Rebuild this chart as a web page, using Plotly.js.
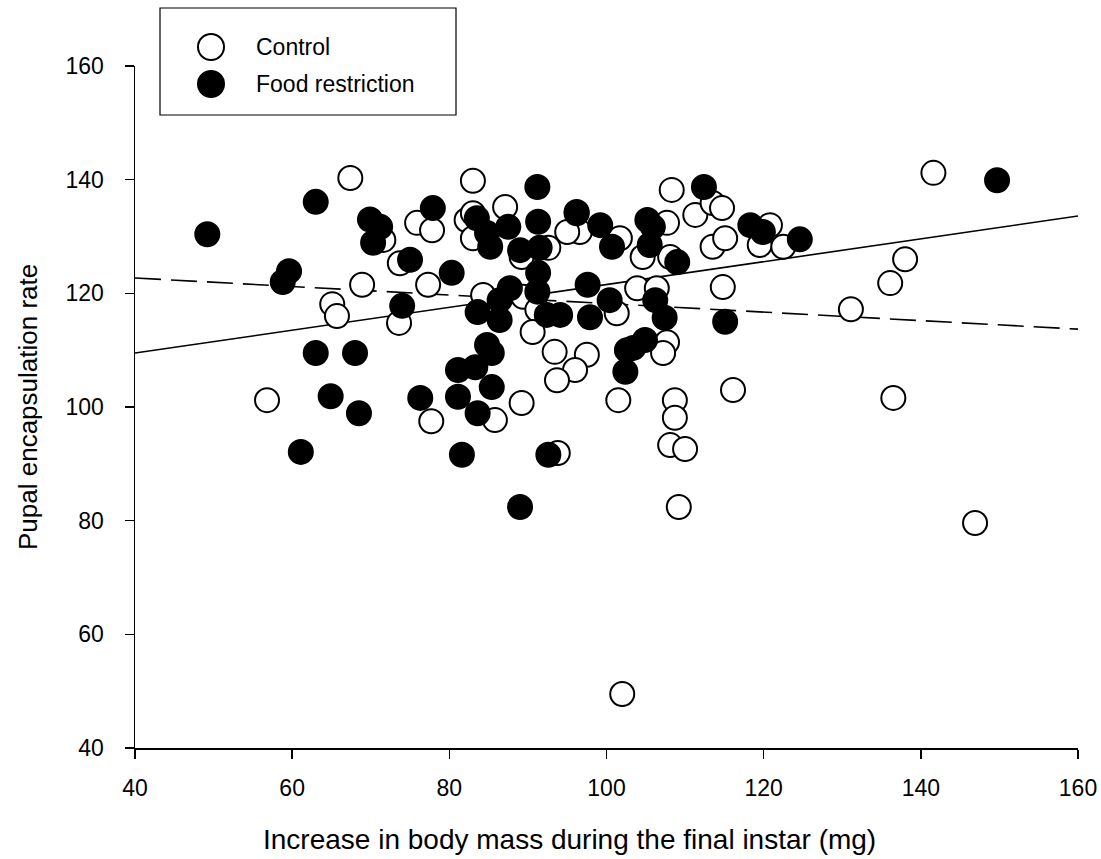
<!DOCTYPE html>
<html>
<head>
<meta charset="utf-8">
<script src="https://cdn.plot.ly/plotly-3.0.1.min.js"></script>
<style>html,body{margin:0;padding:0;background:#fff;}#chart{width:1101px;height:859px;}</style>
</head>
<body>
<div id="chart"></div>
<script>
// Control (open circles)
const controlX = [67.4,56.8,65.1,65.7,68.9,71.6,73.7,73.6,75.9,77.8,77.3,77.7,83.0,82.2,83.0,87.1,83.0,89.2,92.6,96.2,96.6,95.0,101.7,107.7,104.6,108.1,108.3,111.3,113.5,114.7,113.5,115.1,119.5,120.8,122.5,114.8,84.3,89.4,91.2,90.6,103.9,106.4,101.3,93.4,97.5,96.0,93.7,85.8,89.2,107.7,107.2,101.5,108.7,108.7,108.1,110.0,116.1,93.8,109.2,102.0,141.6,138.0,136.1,131.1,136.5,146.9];
const controlY = [140.3,101.2,118.1,116.0,121.5,129.4,125.3,114.8,132.4,131.1,121.5,97.5,139.8,132.9,134.1,135.2,129.7,126.4,128.0,134.3,130.8,130.8,129.7,132.4,126.4,126.4,138.2,133.8,135.9,135.0,128.2,129.7,128.5,132.0,128.2,121.1,119.7,119.4,117.1,113.2,120.9,120.9,116.5,109.7,109.2,106.5,104.7,97.7,100.7,111.4,109.5,101.2,101.2,98.1,93.3,92.6,103.0,91.9,82.4,49.5,141.2,126.0,121.8,117.2,101.6,79.6];

// Food restriction (filled circles)
const foodX = [49.2,63.0,59.6,58.8,69.9,71.2,70.3,77.9,75.0,80.3,74.0,63.0,68.0,64.9,68.5,76.3,61.1,91.2,112.4,83.5,84.8,85.2,87.5,89.0,91.3,91.5,96.2,99.2,100.7,105.2,105.9,105.5,109.0,118.3,119.9,124.6,149.7,87.7,91.3,91.2,86.4,83.6,86.4,92.4,94.1,97.6,100.4,97.9,106.2,107.4,115.1,84.8,85.4,81.1,83.3,85.4,81.1,83.6,104.9,103.4,102.6,102.4,81.6,92.6,89.0];
const foodY = [130.4,136.1,123.9,122.0,133.0,131.7,128.9,135.0,125.9,123.6,117.8,109.5,109.5,101.9,98.9,101.6,92.1,138.7,138.7,133.2,130.6,128.2,131.7,127.6,132.6,128.0,134.1,132.0,128.2,132.9,131.7,128.5,125.5,132.0,130.8,129.5,139.9,120.9,123.6,120.3,118.8,116.7,115.3,116.2,116.2,121.5,118.8,115.8,118.8,115.7,115.0,110.9,109.5,106.5,107.0,103.5,101.8,98.9,111.8,110.4,110.0,106.2,91.6,91.6,82.4];

// Fitted regression lines (end points)
const fitX = [40, 160];
const controlFitY = [109.5, 133.6];
const foodFitY = [122.7, 113.7];

const xTicks = [40, 60, 80, 100, 120, 140, 160];
const yTicks = [40, 60, 80, 100, 120, 140, 160];
const seriesNames = ['Control', 'Food restriction'];
const xTitle = 'Increase in body mass during the final instar (mg)';
const yTitle = 'Pupal encapsulation rate';

const FONT = '"Liberation Sans", Arial, Helvetica, sans-serif';

const traces = [
  {x: fitX, y: controlFitY, mode: 'lines', line: {color: '#000', width: 1.6}, showlegend: false, hoverinfo: 'skip'},
  {x: fitX, y: foodFitY, mode: 'lines', line: {color: '#000', width: 1.6, dash: '26px,10px'}, showlegend: false, hoverinfo: 'skip'},
  {x: controlX, y: controlY, mode: 'markers', name: seriesNames[0], type: 'scatter', showlegend: false,
   marker: {symbol: 'circle', size: 24, color: '#fff', line: {color: '#000', width: 2}}},
  {x: foodX, y: foodY, mode: 'markers', name: seriesNames[1], type: 'scatter', showlegend: false,
   marker: {symbol: 'circle', size: 24, color: '#000', line: {color: '#000', width: 2}}}
];

const axisCommon = {
  range: [40, 160], showgrid: false, zeroline: false, showline: true,
  linecolor: '#000', linewidth: 1.5, ticks: 'outside', ticklen: 9, tickwidth: 1.5, tickcolor: '#000',
  tickfont: {family: FONT, size: 23, color: '#000'}, automargin: false
};

// legend drawn as a framed key (pixel geometry converted to paper units)
const W = 943, H = 682;           // plot area size in px
const px = v => (v - 135) / W;    // page x -> paper x
const py = v => (748 - v) / H;    // page y -> paper y
const r = 13;
const keyRows = [47, 84];

const shapes = [
  {type: 'rect', xref: 'paper', yref: 'paper', x0: px(160), x1: px(456), y0: py(115), y1: py(8),
   line: {color: '#000', width: 1.2}, fillcolor: 'rgba(0,0,0,0)', layer: 'above'},
  {type: 'circle', xref: 'paper', yref: 'paper', x0: px(211 - r), x1: px(211 + r), y0: py(keyRows[0] + r), y1: py(keyRows[0] - r),
   line: {color: '#000', width: 2}, fillcolor: '#fff', layer: 'above'},
  {type: 'circle', xref: 'paper', yref: 'paper', x0: px(211 - r), x1: px(211 + r), y0: py(keyRows[1] + r), y1: py(keyRows[1] - r),
   line: {color: '#000', width: 2}, fillcolor: '#000', layer: 'above'}
];

const annotations = [
  {xref: 'paper', yref: 'paper', x: px(254), y: py(keyRows[0]), xanchor: 'left', yanchor: 'middle', showarrow: false,
   text: seriesNames[0], font: {family: FONT, size: 23, color: '#000'}},
  {xref: 'paper', yref: 'paper', x: px(254), y: py(keyRows[1]), xanchor: 'left', yanchor: 'middle', showarrow: false,
   text: seriesNames[1], font: {family: FONT, size: 23, color: '#000'}},
  {xref: 'paper', yref: 'paper', x: px(569), y: py(840), xanchor: 'center', yanchor: 'middle', showarrow: false,
   text: xTitle, font: {family: FONT, size: 28, color: '#000'}},
  {xref: 'paper', yref: 'paper', x: px(28), y: py(407), xanchor: 'center', yanchor: 'middle', showarrow: false, textangle: -90,
   text: yTitle, font: {family: FONT, size: 26, color: '#000'}}
];

const layout = {
  width: 1101, height: 859,
  margin: {l: 135, r: 23, t: 66, b: 111},
  paper_bgcolor: '#fff', plot_bgcolor: '#fff',
  font: {family: FONT, color: '#000'},
  showlegend: false,
  xaxis: Object.assign({}, axisCommon, {tickvals: xTicks, ticktext: xTicks.map(String), ticklabelstandoff: 10}),
  yaxis: Object.assign({}, axisCommon, {tickvals: yTicks, ticktext: yTicks.map(String), ticklabelstandoff: 16}),
  shapes: shapes,
  annotations: annotations
};

Plotly.newPlot('chart', traces, layout, {displayModeBar: false, staticPlot: true});
</script>
</body>
</html>
